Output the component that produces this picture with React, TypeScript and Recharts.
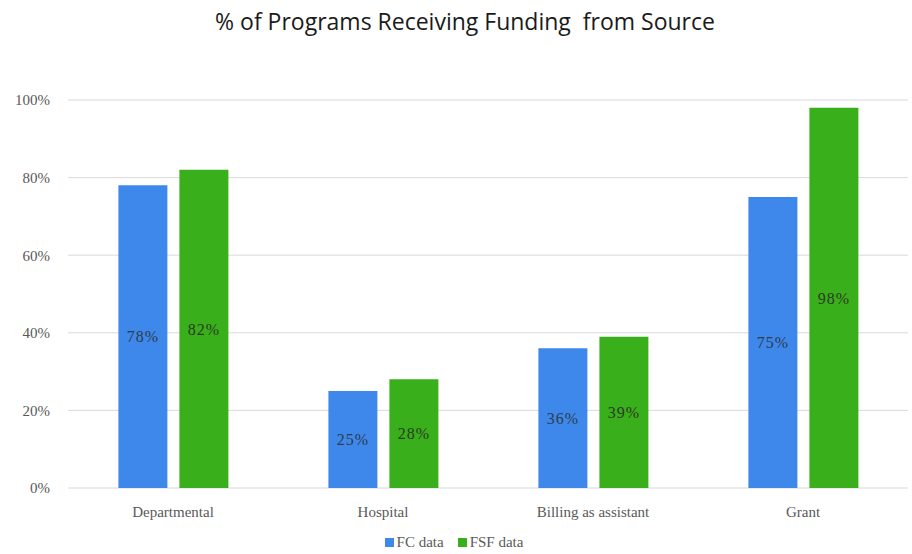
import { BarChart, Bar, XAxis, YAxis, CartesianGrid, Legend, LabelList } from "recharts";

const categories = ["Departmental", "Hospital", "Billing as assistant", "Grant"];
const fcValues = [0.78, 0.25, 0.36, 0.75];
const fsfValues = [0.82, 0.28, 0.39, 0.98];
const yTicks = [0, 0.2, 0.4, 0.6, 0.8, 1];

const data = categories.map((name, i) => ({
  name,
  fc: fcValues[i],
  fsf: fsfValues[i],
}));

const serif = "'Liberation Serif', 'Times New Roman', serif";
const pct = (v: number) => `${Math.round(v * 100)}%`;

const CustomLegend = () => (
  <div
    style={{
      display: "flex",
      justifyContent: "center",
      gap: 14,
      marginTop: 12,
      fontFamily: serif,
      fontSize: 15,
      color: "#595959",
    }}
  >
    <span style={{ display: "flex", alignItems: "center", gap: 3 }}>
      <span style={{ display: "inline-block", width: 9, height: 9, background: "#3d88ea" }} />
      FC data
    </span>
    <span style={{ display: "flex", alignItems: "center", gap: 3 }}>
      <span style={{ display: "inline-block", width: 9, height: 9, background: "#3aaf1c" }} />
      FSF data
    </span>
  </div>
);

export default function App() {
  return (
    <div style={{ position: "absolute", left: 0, top: 0, width: 912, height: 554, background: "#fff" }}>
      <div
        style={{
          position: "absolute",
          top: 5,
          left: 9,
          width: 912,
          textAlign: "center",
          fontFamily: "'Liberation Sans Narrow', 'Open Sans', sans-serif",
          fontSize: 23,
          color: "#1a1a1a",
          whiteSpace: "pre",
        }}
      >
        % of Programs Receiving Funding  from Source
      </div>
      <BarChart
        width={912}
        height={554}
        data={data}
        margin={{ top: 100, right: 4, left: 0, bottom: 8 }}
        barCategoryGap="24%"
        barGap={12}
      >
        <CartesianGrid vertical={false} stroke="#d9d9d9" />
        <XAxis
          dataKey="name"
          axisLine={false}
          tickLine={false}
          tick={{ fontFamily: serif, fontSize: 15, fill: "#595959" }}
          height={34}
          tickMargin={12}
        />
        <YAxis
          domain={[0, 1]}
          ticks={yTicks}
          tickFormatter={pct}
          axisLine={false}
          tickLine={false}
          width={68}
          tick={{ fontFamily: serif, fontSize: 15, fill: "#595959" }}
          tickMargin={12}
        />
        <Legend verticalAlign="bottom" height={24} content={<CustomLegend />} />
        <Bar dataKey="fc" name="FC data" fill="#3d88ea" isAnimationActive={false}>
          <LabelList
            dataKey="fc"
            position="center"
            formatter={(v: number) => pct(v)}
            style={{ fontFamily: serif, fontSize: 16, fill: "#2f3b4a", letterSpacing: 1 }}
          />
        </Bar>
        <Bar dataKey="fsf" name="FSF data" fill="#3aaf1c" isAnimationActive={false}>
          <LabelList
            dataKey="fsf"
            position="center"
            formatter={(v: number) => pct(v)}
            style={{ fontFamily: serif, fontSize: 16, fill: "#2b3a22", letterSpacing: 1 }}
          />
        </Bar>
      </BarChart>
    </div>
  );
}
